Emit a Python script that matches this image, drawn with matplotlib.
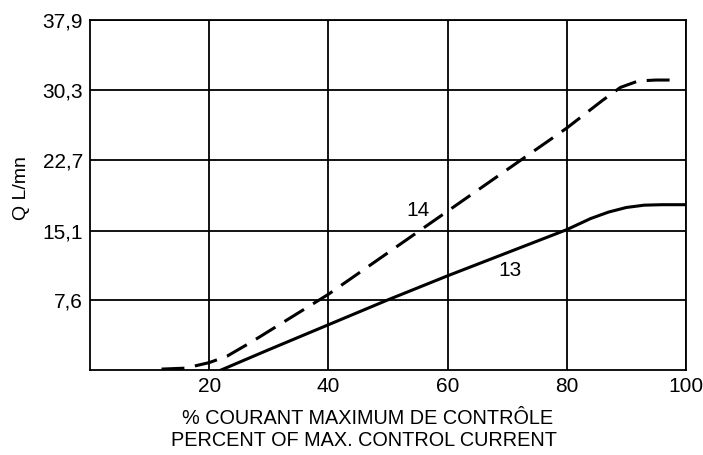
import matplotlib
matplotlib.use("Agg")
import matplotlib.pyplot as plt

plt.rcParams['font.family'] = ['Liberation Sans', 'DejaVu Sans']

# curve 14 (dashed)
x14 = [12, 16, 20, 23, 27, 32, 37, 40, 50, 60, 70, 80, 86, 89, 92, 95, 98]
y14 = [0.1, 0.2, 0.8, 1.5, 3.0, 5.0, 7.0, 8.2, 12.7, 17.2, 21.7, 26.2, 29.2, 30.6, 31.3, 31.4, 31.4]

# curve 13 (solid)
x13 = [22, 30, 40, 50, 60, 70, 80, 84, 87, 90, 93, 96, 100]
y13 = [0, 2.2, 4.9, 7.6, 10.2, 12.7, 15.2, 16.4, 17.1, 17.6, 17.85, 17.9, 17.9]

xticks = [20, 40, 60, 80, 100]
yticks = [7.6, 15.1, 22.7, 30.3, 37.9]
ytick_labels = ["7,6", "15,1", "22,7", "30,3", "37,9"]

fig = plt.figure(figsize=(7.03, 4.55), dpi=100)
ax = fig.add_axes([90/703, 85/455, 596/703, 350/455])

ax.plot(x14, y14, color='black', lw=2.2, dashes=(7.5, 3.5))
ax.plot(x13, y13, color='black', lw=2.2)

ax.set_xlim(0, 100)
ax.set_ylim(0, 37.9)
ax.set_xticks(xticks)
ax.set_yticks(yticks)
ax.set_yticklabels(ytick_labels)
ax.tick_params(length=0, labelsize=15, pad=5)
ax.grid(True, color='black', lw=1.3)
for s in ax.spines.values():
    s.set_linewidth(1.3)

ax.text(55, 17.3, "14", fontsize=15, ha='center', va='center')
ax.text(70.5, 10.8, "13", fontsize=15, ha='center', va='center')

fig.text(22/703, 1 - 188/455, "Q L/mn", rotation=90, fontsize=14,
         ha='center', va='center')
fig.text(368/703, 1 - 418/455, "% COURANT MAXIMUM DE CONTRÔLE", fontsize=14.3,
         ha='center', va='center')
fig.text(364/703, 1 - 441/455, "PERCENT OF MAX. CONTROL CURRENT", fontsize=14.3,
         ha='center', va='center')

fig.savefig("out.png", dpi=100, facecolor='white')
